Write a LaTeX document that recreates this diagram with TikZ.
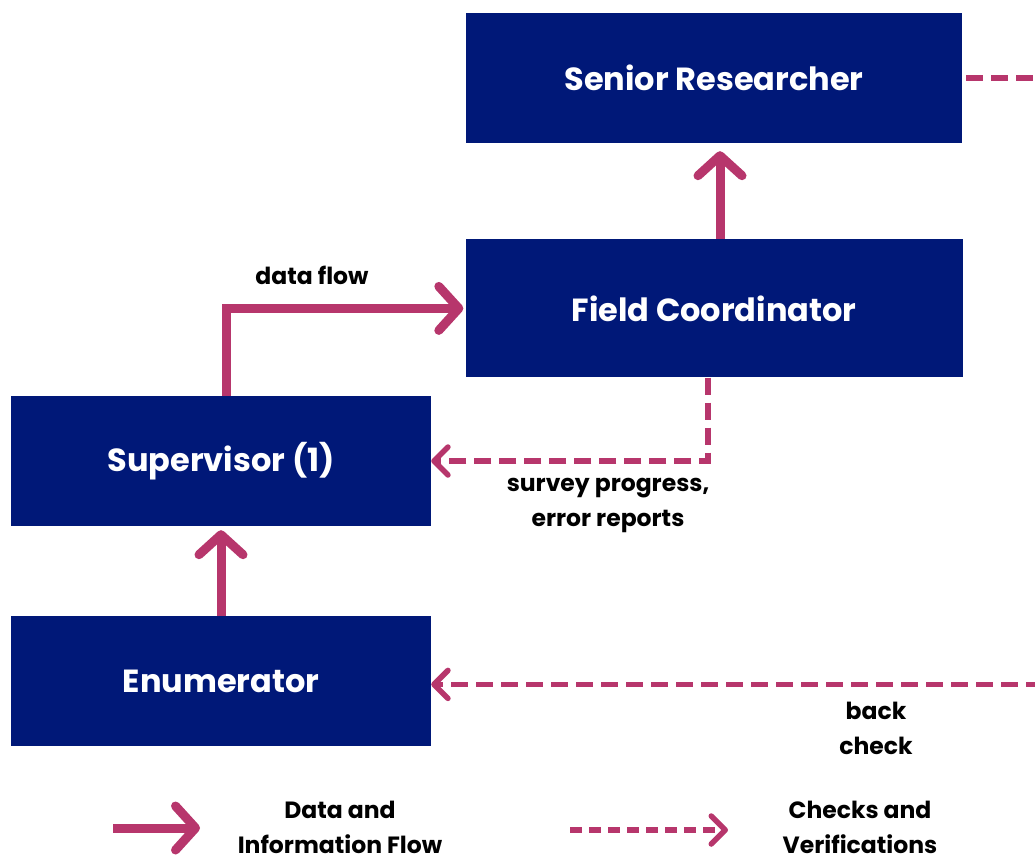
\documentclass[tikz,border=0pt]{standalone}
\usepackage{fontspec}
\setmainfont{Poppins}
\usetikzlibrary{arrows.meta,positioning}

\definecolor{navy}{RGB}{0,24,120}
\definecolor{berry}{RGB}{183,54,108}

\begin{document}
\begin{tikzpicture}[
    x=1pt, y=-1pt,
    role/.style={
        rectangle, fill=navy, text=white, inner sep=0pt,
        minimum height=130pt, font=\bfseries\fontsize{32}{36}\selectfont
    },
    note/.style={align=center, font=\bfseries\fontsize{23.5}{35}\selectfont},
    flow/.style={draw=berry, line width=9pt,
        -{Straight Barb[length=20pt, width=44pt, round]}},
    check/.style={draw=berry, line width=5.5pt, dash pattern=on 17pt off 8pt,
        -{Straight Barb[length=14pt, width=28pt, round]}}
]
\clip (0,0) rectangle (1035,857);

\node[role, minimum width=496pt] (sr) at (714,78) {Senior Researcher};
\node[role, minimum width=497pt, minimum height=138pt, below=96pt of sr] (fc) {Field Coordinator};
\node[role, minimum width=420pt] (sup) at (221,461) {Supervisor (1)};
\node[role, minimum width=420pt, below=90pt of sup] (enum) {Enumerator};

% information flows upwards
\draw[flow, shorten >=8pt] ([xshift=6pt]fc.north) -- ([xshift=6pt]sr.south);
\draw[flow, shorten >=2pt] ([xshift=5pt]sup.north) |- (fc.west);
\draw[flow, shorten >=4pt] (enum.north) -- (sup.south);

% checks come back down
\draw[check] ([xshift=-6pt]fc.south) |- (sup.east);
\draw[check] ([xshift=4pt]sr.east) -- ++(72.5,0) |- ([yshift=-3pt]enum.east);

\node[note] (lbl1) at (312,275) {data flow};
\node[note] (lbl2) at (608,505) {survey progress,\\error reports};
\node[note] (lbl3) at (876,728) {back\\check};

% legend
\coordinate (sa) at (113,828);
\coordinate (sb) at (200,828);
\coordinate (da) at (570,830);
\coordinate (db) at (728,830);
\draw[flow] (sa) -- (sb);
\draw[check, dash pattern=on 12pt off 7pt] (da) -- (db);
\node[note] (leg1) at (340,827) {Data and\\Information Flow};
\node[note] (leg2) at (860,827) {Checks and\\Verifications};
\end{tikzpicture}
\end{document}
